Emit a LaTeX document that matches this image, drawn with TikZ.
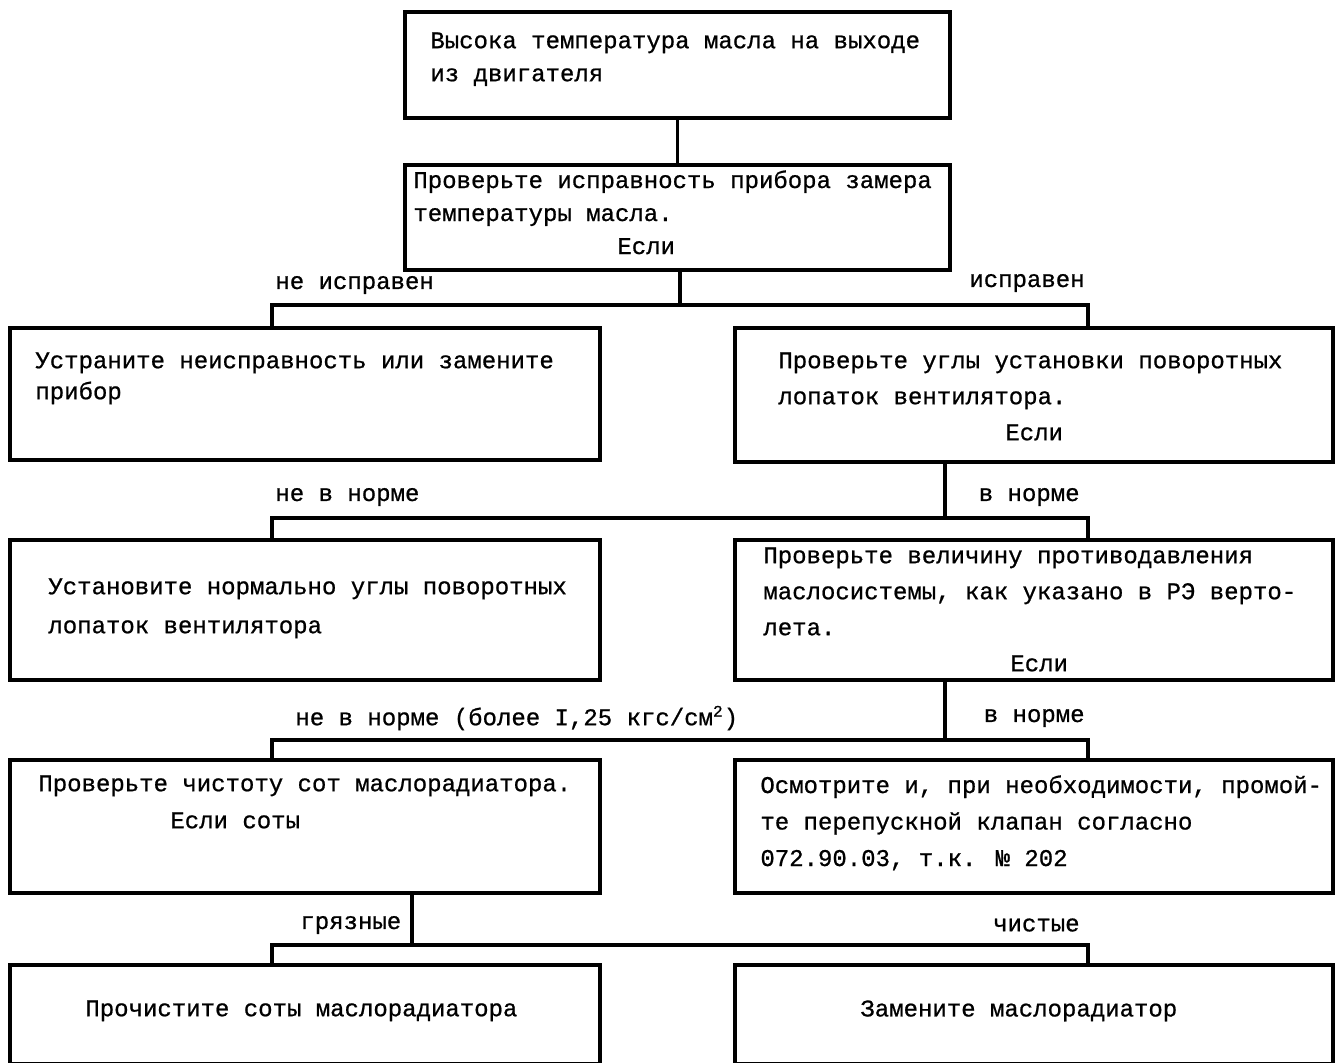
\documentclass[tikz,border=0pt]{standalone}
\usepackage{fontspec}
\setmainfont{Liberation Mono}[FakeBold=0.8]
\usetikzlibrary{positioning}

\tikzset{
    box/.style={draw, line width=1.6pt, inner sep=0pt, minimum height=#1},
    box/.default=66pt,
    txt/.style={align=left, inner sep=0pt, anchor=north west,
        font=\fontsize{12}{#1}\selectfont},
    txt/.default=16.5pt,
    lbl/.style={inner sep=0pt, font=\fontsize{12}{14}\selectfont},
    wire/.style={line width=1.6pt},
}

\begin{document}
\begin{tikzpicture}[x=0.5pt,y=-0.5pt]
    \useasboundingbox (0,0) rectangle (1340,1062);

    % Boxes
    \node[box=53pt, minimum width=272.5pt] (b1) at (677.5,65) {};
    \node[box=52.5pt, minimum width=272.5pt] (b2) at (677.5,217.5) {};
    \node[box=66pt, minimum width=295pt] (b3) at (305,394) {};
    \node[box=67pt, minimum width=299pt] (b4) at (1034,395) {};
    \node[box=70pt, minimum width=295pt] (b5) at (305,610) {};
    \node[box=70pt, minimum width=299pt] (b6) at (1034,610) {};
    \node[box=66.5pt, minimum width=295pt] (b7) at (305,826.5) {};
    \node[box=66.5pt, minimum width=299pt] (b8) at (1034,826.5) {};
    \node[box=49.5pt, minimum width=295pt] (b9) at (305,1014.5) {};
    \node[box=49.5pt, minimum width=299pt] (b10) at (1034,1014.5) {};

    % Box texts
    \node[txt] (t1) at (430,32) {Высока температура масла на выходе\\из двигателя};
    \node[txt] (t2) at (413,170) {Проверьте исправность прибора замера\\температуры масла.\\\hspace*{102pt}Если};
    \node[txt=15.5pt] (t3) at (35,352) {Устраните неисправность или замените\\прибор};
    \node[txt=18pt] (t4) at (778,352) {Проверьте углы установки поворотных\\лопаток вентилятора.\\\hspace*{113.5pt}Если};
    \node[txt=19.5pt] (t5) at (48,578) {Установите нормально углы поворотных\\лопаток вентилятора};
    \node[txt=18pt] (t6) at (763,547) {Проверьте величину противодавления\\маслосистемы, как указано в РЭ верто-\\лета.\\\hspace*{123.5pt}Если};
    \node[txt=18.5pt] (t7) at (38,775) {Проверьте чистоту сот маслорадиатора.\\\hspace*{66pt}Если соты};
    \node[txt=18.25pt] (t8) at (760,775) {Осмотрите и, при необходимости, промой-\\те перепускной клапан согласно\\072.90.03, т.к. № 202};
    \node[txt] (t9) at (85,1000) {Прочистите соты маслорадиатора};
    \node[txt] (t10) at (860,1000) {Замените маслорадиатор};

    % Connectors
    \draw[wire] (b1) -- (b2);
    \foreach \src/\x/\y/\lt/\rt in {b2/680/305/b3/b4, b4/945/518/b5/b6,
                                    b6/945/740/b7/b8, b7/412/945/b9/b10} {
        \coordinate (j) at (\x,\y);
        \coordinate (jl) at (272,\y);
        \coordinate (jr) at (1088,\y);
        \draw[wire] (\src.south -| j) -- (j);
        \draw[wire] (\lt.north -| jl) -- (jl) -- (jr) -- (\rt.north -| jr);
    }

    % Branch labels
    \node[lbl, anchor=west] (n1) at (275,285) {не исправен};
    \node[lbl, anchor=east] (y1) at (1085,283) {исправен};
    \node[lbl, anchor=west] (n2) at (275,497) {не в норме};
    \node[lbl, anchor=east] (y2) at (1080,497) {в норме};
    \node[lbl, anchor=west] (n3) at (295,718) {не в норме (более I,25 кгс/см\textsuperscript{2})};
    \node[lbl, anchor=east] (y3) at (1085,718) {в норме};
    \node[lbl, anchor=west] (n4) at (300,925) {грязные};
    \node[lbl, anchor=east] (y4) at (1080,925) {чистые};
\end{tikzpicture}
\end{document}
